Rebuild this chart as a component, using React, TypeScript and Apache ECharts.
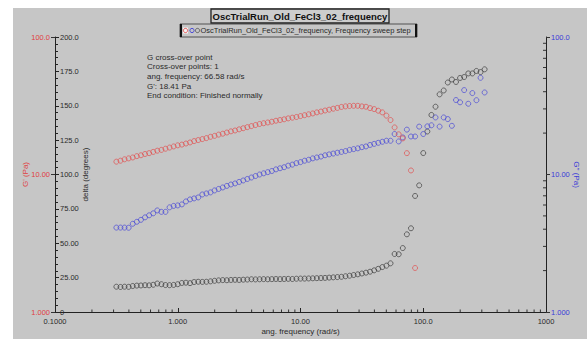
import React, { useEffect, useRef } from 'react';
import * as echarts from 'echarts';

// angular frequency (rad/s)
const frequencies = [
  0.3162, 0.3415, 0.3687, 0.3981, 0.4299, 0.4642, 0.5012, 0.5412, 0.5843, 0.6310,
  0.6813, 0.7356, 0.7943, 0.8577, 0.9261, 1.000, 1.080, 1.166, 1.259, 1.359,
  1.468, 1.585, 1.711, 1.848, 1.995, 2.154, 2.326, 2.512, 2.712, 2.929,
  3.162, 3.415, 3.687, 3.981, 4.299, 4.642, 5.012, 5.412, 5.843, 6.310,
  6.813, 7.356, 7.943, 8.577, 9.261, 10.00, 10.80, 11.66, 12.59, 13.59,
  14.68, 15.85, 17.11, 18.48, 19.95, 21.54, 23.26, 25.12, 27.12, 29.29,
  31.62, 34.15, 36.87, 39.81, 42.99, 46.42, 50.12, 54.12, 58.43, 63.10,
  68.13, 73.56, 79.43, 85.77, 92.61, 100.0, 108.0, 116.6, 125.9, 135.9,
  146.8, 158.5, 171.1, 184.8, 199.5, 215.4, 232.6, 251.2, 271.2, 292.9,
  316.2,
];

// G' (Pa), red, left log axis
const storageModulus = [
  12.4, 12.6, 12.9, 13.1, 13.3, 13.6, 13.8, 14.1, 14.3, 14.6,
  14.9, 15.1, 15.4, 15.7, 16.0, 16.3, 16.5, 16.8, 17.1, 17.5,
  17.8, 18.1, 18.4, 18.8, 19.1, 19.5, 19.8, 20.2, 20.6, 20.9,
  21.3, 21.7, 22.1, 22.5, 22.9, 23.3, 23.6, 23.9, 24.2, 24.6,
  24.9, 25.2, 25.6, 25.9, 26.2, 26.6, 27.0, 27.4, 27.8, 28.3,
  28.7, 29.2, 29.6, 30.1, 30.5, 31.0, 31.3, 31.5, 31.6, 31.6,
  31.3, 31.1, 30.4, 29.9, 29.1, 28.3, 26.8, 24.9, 22.0, 19.6,
  18.3, 14.3, 10.7, 2.09,
];

// G'' (Pa), blue, right log axis
const lossModulus = [
  4.11, 4.11, 4.11, 4.10, 4.38, 4.53, 4.68, 4.88, 5.05, 5.22,
  5.48, 5.35, 5.35, 5.77, 5.91, 5.96, 6.06, 6.37, 6.59, 6.70,
  6.81, 7.16, 7.28, 7.41, 7.66, 7.85, 8.05, 8.26, 8.46, 8.61,
  8.83, 9.05, 9.28, 9.51, 9.75, 10.0, 10.2, 10.4, 10.6, 10.9,
  11.1, 11.3, 11.6, 11.8, 12.1, 12.3, 12.6, 12.8, 13.1, 13.3,
  13.5, 13.8, 14.0, 14.2, 14.4, 14.6, 14.8, 15.1, 15.3, 15.5,
  15.8, 16.0, 16.4, 16.7, 17.0, 17.3, 17.6, 17.6, 19.7, 17.4,
  18.6, 21.2, 18.9, 18.9, 22.3, 19.7, 22.4, 22.8, 26.0, 22.3,
  26.0, 25.3, 22.6, 34.8, 33.5, 41.1, 32.7, 39.1, 34.7, 50.5,
  39.5,
];

// delta (degrees), black, left linear axis
const phaseAngle = [
  18.4, 18.2, 18.4, 18.3, 18.9, 19.2, 19.3, 19.5, 19.4, 19.8,
  20.7, 20.2, 19.6, 19.5, 19.7, 20.2, 21.1, 21.3, 21.0, 21.8,
  22.0, 21.9, 22.0, 22.3, 22.7, 23.0, 23.2, 23.1, 23.3, 23.4,
  23.3, 23.5, 23.6, 23.8, 23.7, 23.8, 23.9, 23.8, 23.9, 24.0,
  23.9, 24.0, 24.1, 24.0, 24.2, 24.3, 24.3, 24.4, 24.5, 24.6,
  24.7, 24.8, 25.0, 25.2, 25.4, 25.6, 26.0, 26.4, 26.9, 27.4,
  28.0, 28.6, 29.3, 30.3, 31.4, 32.7, 33.7, 35.4, 42.2, 42.0,
  46.5, 56.5, 60.9, 84.4, 92.1, 115.6, 131.3, 143.3, 149.3, 158.3,
  161.1, 166.9, 169.1, 167.3, 170.2, 170.9, 173.5, 173.5, 175.3, 174.5,
  176.5,
];

const xTickLabels = ['0.1000', '1.000', '10.00', '100.0', '1000'];
const modulusTickLabels = ['1.000', '10.00', '100.0'];
const deltaTickLabels = ['0', '25.00', '50.00', '75.00', '100.0', '125.0', '150.0', '175.0', '200.0'];
const xMinorTicks = [
  0.2, 0.3, 0.4, 0.5, 0.6, 0.7, 0.8, 0.9,
  2, 3, 4, 5, 6, 7, 8, 9,
  20, 30, 40, 50, 60, 70, 80, 90,
  200, 300, 400, 500, 600, 700, 800, 900,
];
const modulusMinorTicks = [2, 3, 4, 5, 6, 7, 8, 9, 20, 30, 40, 50, 60, 70, 80, 90];

const chartTitle = 'OscTrialRun_Old_FeCl3_02_frequency';
const legendText = 'OscTrialRun_Old_FeCl3_02_frequency, Frequency sweep step';
const infoLines = [
  'G cross-over point',
  'Cross-over points: 1',
  'ang. frequency: 66.58 rad/s',
  "G': 18.41 Pa",
  'End condition: Finished normally',
];

const FONT = 'Liberation Sans, Arial, sans-serif';
const RED = '#e0403f';
const BLUE = '#3b3bd8';
const INK = '#2a2a2a';
const BG = '#c6c6c6';

export default function App() {
  const ref = useRef<HTMLDivElement>(null);

  useEffect(() => {
    if (!ref.current) return;
    const chart = echarts.init(ref.current, null, { renderer: 'svg' });

    const logLabel = (labels: string[], offset: number) => (v: number) => {
      const k = Math.round(Math.log10(v)) + offset;
      return labels[k] ?? '';
    };

    const option: any = {
      animation: false,
      backgroundColor: BG,
      textStyle: { fontFamily: FONT },
      grid: {
        left: 42, right: 41, top: 29, bottom: 27,
        containLabel: false, outerBoundsMode: 'none',
      },
      xAxis: [{
        type: 'log', logBase: 10, min: 0.1, max: 1000,
        name: 'ang. frequency (rad/s)', nameLocation: 'middle', nameGap: 15,
        nameMoveOverlap: false,
        nameTextStyle: { color: INK, fontSize: 8, fontFamily: FONT },
        axisLine: { show: true, lineStyle: { color: '#222', width: 1 } },
        axisTick: { show: true, inside: true, length: 4, lineStyle: { color: '#222' } },
        axisLabel: {
          color: INK, fontSize: 7.5, fontFamily: FONT, margin: 5,
          showMinLabel: true, showMaxLabel: true,
          formatter: logLabel(xTickLabels, 1),
        },
        splitLine: { show: false },
      }],
      yAxis: [
        {
          type: 'value', position: 'left', min: 0, max: 200, interval: 25,
          name: 'delta (degrees)', nameLocation: 'middle', nameGap: -34,
          nameMoveOverlap: false,
          nameTextStyle: { color: INK, fontSize: 8, fontFamily: FONT },
          axisLine: { show: true, lineStyle: { color: '#222', width: 1 } },
          axisTick: { show: true, inside: true, length: 4, lineStyle: { color: '#222' } },
          minorTick: { show: true, splitNumber: 5, length: 3, lineStyle: { color: '#222', width: 1 } },
          axisLabel: {
            inside: true, color: INK, fontSize: 7.5, fontFamily: FONT, margin: 5,
            formatter: (v: number) => deltaTickLabels[Math.round(v / 25)] ?? '',
          },
          splitLine: { show: false },
        },
        {
          type: 'log', logBase: 10, position: 'left', min: 1, max: 100,
          name: "G' (Pa)", nameLocation: 'middle', nameGap: 26,
          nameMoveOverlap: false,
          nameTextStyle: { color: RED, fontSize: 8, fontFamily: FONT },
          axisLine: { show: false },
          axisTick: { show: true, inside: false, length: 4, lineStyle: { color: '#333' } },
          axisLabel: {
            color: RED, fontSize: 7.5, fontFamily: FONT, margin: 5,
            showMinLabel: true, showMaxLabel: true,
            formatter: logLabel(modulusTickLabels, 0),
          },
          splitLine: { show: false },
        },
        {
          type: 'log', logBase: 10, position: 'right', min: 1, max: 100,
          name: "G'' (Pa)", nameLocation: 'middle', nameGap: 26, nameRotate: -90,
          nameMoveOverlap: false,
          nameTextStyle: { color: BLUE, fontSize: 8, fontFamily: FONT },
          axisLine: { show: true, lineStyle: { color: '#222', width: 1 } },
          axisTick: { show: true, inside: false, length: 4, lineStyle: { color: '#333' } },
          axisLabel: {
            color: BLUE, fontSize: 7.5, fontFamily: FONT, margin: 5,
            showMinLabel: true, showMaxLabel: true,
            formatter: logLabel(modulusTickLabels, 0),
          },
          splitLine: { show: false },
        },
      ],
      series: [
        {
          type: 'custom', name: 'x minor ticks', xAxisIndex: 0, yAxisIndex: 1,
          silent: true, clip: false,
          data: xMinorTicks.map((v) => [v, 1]),
          renderItem: (_p: any, api: any) => {
            const p = api.coord([api.value(0), 1]);
            return {
              type: 'line',
              shape: { x1: p[0], y1: p[1], x2: p[0], y2: p[1] - 2.5 },
              style: { stroke: '#333', lineWidth: 1 },
            };
          },
        },
        {
          type: 'custom', name: 'right minor ticks', xAxisIndex: 0, yAxisIndex: 2,
          silent: true, clip: false,
          data: modulusMinorTicks.map((v) => [1000, v]),
          renderItem: (_p: any, api: any) => {
            const p = api.coord([1000, api.value(1)]);
            return {
              type: 'line',
              shape: { x1: p[0], y1: p[1], x2: p[0] - 3, y2: p[1] },
              style: { stroke: '#333', lineWidth: 1 },
            };
          },
        },
        {
          type: 'scatter', name: 'delta', xAxisIndex: 0, yAxisIndex: 0,
          symbol: 'circle', symbolSize: 5, silent: true,
          itemStyle: { color: 'transparent', borderColor: '#3e3e3e', borderWidth: 0.9 },
          data: frequencies.map((f, i) => [f, phaseAngle[i]]),
        },
        {
          type: 'scatter', name: "G''", xAxisIndex: 0, yAxisIndex: 2,
          symbol: 'circle', symbolSize: 5, silent: true,
          itemStyle: { color: 'transparent', borderColor: '#4a4ad6', borderWidth: 0.9 },
          data: frequencies.map((f, i) => [f, lossModulus[i]]),
        },
        {
          type: 'scatter', name: "G'", xAxisIndex: 0, yAxisIndex: 1,
          symbol: 'circle', symbolSize: 5, silent: true,
          itemStyle: { color: 'transparent', borderColor: '#e25050', borderWidth: 0.9 },
          data: storageModulus.map((g, i) => [frequencies[i], g]),
        },
      ],
      graphic: [
        {
          type: 'rect', shape: { x: 198, y: 1, width: 178, height: 14 },
          style: { fill: '#cdcdcd', stroke: '#222', lineWidth: 1.3 },
        },
        {
          type: 'text', x: 287, y: 8.5,
          style: {
            text: chartTitle, font: `bold 9.5px ${FONT}`, fill: '#111',
            align: 'center', verticalAlign: 'middle',
            textAlign: 'center', textVerticalAlign: 'middle',
          },
        },
        {
          type: 'rect', shape: { x: 167, y: 16, width: 237, height: 13 },
          style: { fill: 'none', stroke: '#333', lineWidth: 0.8 },
        },
        { type: 'line', shape: { x1: 168, y1: 16, x2: 168, y2: 29 }, style: { stroke: '#111', lineWidth: 2 } },
        { type: 'line', shape: { x1: 403, y1: 16, x2: 403, y2: 29 }, style: { stroke: '#111', lineWidth: 2 } },
        {
          type: 'rect', shape: { x: 170, y: 19.5, width: 5, height: 6 },
          style: { fill: '#f4f4f4', stroke: 'none' },
        },
        { type: 'circle', shape: { cx: 172.5, cy: 22.5, r: 2.1 }, style: { fill: 'none', stroke: RED, lineWidth: 0.9 } },
        { type: 'circle', shape: { cx: 179, cy: 22.5, r: 2.1 }, style: { fill: 'none', stroke: BLUE, lineWidth: 0.9 } },
        { type: 'circle', shape: { cx: 184.5, cy: 22.5, r: 2.1 }, style: { fill: 'none', stroke: '#555', lineWidth: 0.9 } },
        {
          type: 'text', x: 187.5, y: 22.5,
          style: {
            text: legendText, font: `7.5px ${FONT}`, fill: INK,
            align: 'left', verticalAlign: 'middle',
            textAlign: 'left', textVerticalAlign: 'middle',
          },
        },
        {
          type: 'text', x: 134, y: 44.5,
          style: {
            text: infoLines.join('\n'), font: `8px ${FONT}`, fill: INK, lineHeight: 9.6,
            align: 'left', verticalAlign: 'top',
            textAlign: 'left', textVerticalAlign: 'top',
          },
        },
      ],
    };

    chart.setOption(option);
    return () => chart.dispose();
  }, []);

  return (
    <div style={{ position: 'fixed', left: 0, top: 0, width: 587, height: 341, background: '#fff' }}>
      <div ref={ref} style={{ position: 'absolute', left: 13, top: 8, width: 574, height: 331 }} />
    </div>
  );
}
